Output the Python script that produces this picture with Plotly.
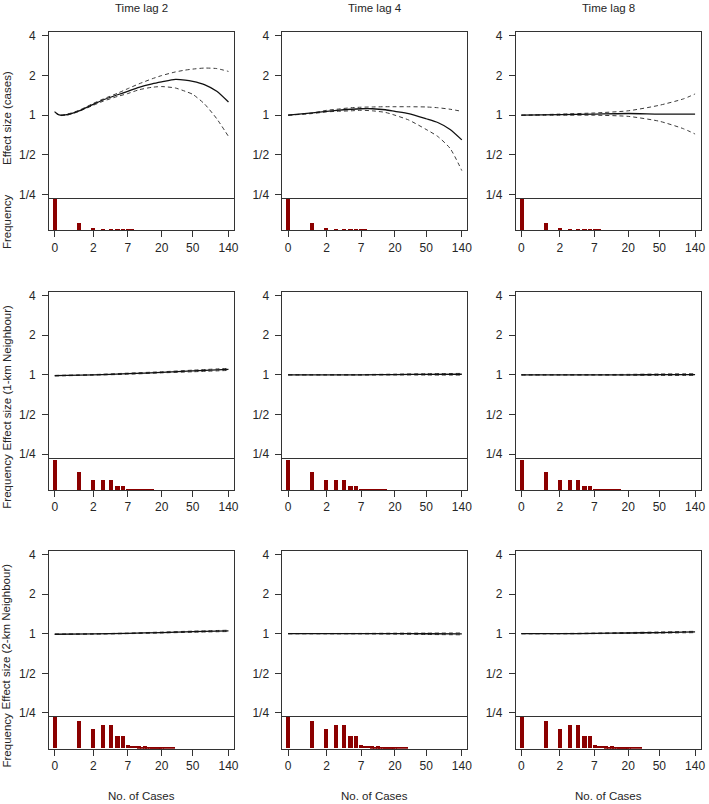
import numpy as np
import plotly.graph_objects as go

W, H = 709, 804

col_titles = ["Time lag 2", "Time lag 4", "Time lag 8"]
row_ylabels = ["Effect size (cases)", "Effect size (1-km Neighbour)", "Effect size (2-km Neighbour)"]
x_tick_vals = [0, 2, 7, 20, 50, 140]
x_tick_text = ["0", "2", "7", "20", "50", "140"]
y_tick_vals = [0.25, 0.5, 1, 2, 4]
y_tick_text = ["1/4", "1/2", "1", "2", "4"]

# ---- effect curves (x = no. of cases) ----
x_r1c1 = [0, 0.08, 0.18, 0.35, 0.6, 1, 2, 3, 5, 7, 10, 15, 20, 30, 40, 50, 70, 100, 140]
fit_r1c1 = [1.06, 1.02, 1.0, 1.005, 1.03, 1.08, 1.21, 1.31, 1.43, 1.52, 1.63, 1.73, 1.79, 1.87, 1.85, 1.81, 1.71, 1.52, 1.26]
hi_r1c1 = [1.06, 1.025, 1.005, 1.012, 1.04, 1.09, 1.23, 1.33, 1.47, 1.59, 1.73, 1.89, 2.00, 2.13, 2.20, 2.24, 2.28, 2.26, 2.15]
lo_r1c1 = [1.06, 1.015, 0.995, 0.998, 1.02, 1.07, 1.19, 1.28, 1.39, 1.46, 1.56, 1.63, 1.65, 1.61, 1.52, 1.44, 1.22, 0.94, 0.69]

x_r1c2 = [0, 1, 2, 3, 5, 7, 10, 15, 20, 30, 50, 70, 100, 140]
fit_r1c2 = [1.0, 1.04, 1.07, 1.09, 1.11, 1.12, 1.12, 1.10, 1.07, 1.03, 0.94, 0.88, 0.78, 0.65]
hi_r1c2 = [1.0, 1.04, 1.09, 1.11, 1.14, 1.15, 1.155, 1.16, 1.16, 1.16, 1.155, 1.14, 1.11, 1.07]
lo_r1c2 = [1.0, 1.03, 1.06, 1.07, 1.08, 1.09, 1.08, 1.05, 1.00, 0.92, 0.78, 0.69, 0.56, 0.38]

x_r1c3 = [0, 2, 7, 20, 50, 100, 140]
fit_r1c3 = [1.0, 1.01, 1.02, 1.03, 1.02, 1.02, 1.02]
hi_r1c3 = [1.0, 1.02, 1.04, 1.08, 1.19, 1.33, 1.45]
lo_r1c3 = [1.0, 1.0, 1.0, 0.98, 0.90, 0.79, 0.72]

x_flat = [0, 2, 7, 20, 50, 140]
fit_r2c1 = [0.985, 1.0, 1.02, 1.045, 1.07, 1.10]
hi_r2c1 = [0.99, 1.005, 1.03, 1.055, 1.085, 1.12]
lo_r2c1 = [0.98, 0.995, 1.01, 1.035, 1.055, 1.08]
fit_r2c2 = [1.0, 1.0, 1.0, 1.005, 1.008, 1.01]
hi_r2c2 = [1.0, 1.002, 1.005, 1.012, 1.02, 1.025]
lo_r2c2 = [1.0, 0.998, 0.996, 0.998, 0.996, 0.995]
fit_r2c3 = [1.0, 1.0, 1.0, 1.0, 1.003, 1.005]
hi_r2c3 = [1.005, 1.003, 1.004, 1.008, 1.015, 1.02]
lo_r2c3 = [0.995, 0.997, 0.996, 0.993, 0.99, 0.99]
fit_r3c1 = [0.99, 0.995, 1.005, 1.02, 1.035, 1.05]
hi_r3c1 = [0.992, 0.998, 1.01, 1.028, 1.045, 1.062]
lo_r3c1 = [0.988, 0.992, 1.0, 1.012, 1.025, 1.038]
fit_r3c2 = [1.0, 1.0, 1.0, 1.0, 0.998, 0.995]
hi_r3c2 = [1.003, 1.003, 1.004, 1.008, 1.01, 1.012]
lo_r3c2 = [0.997, 0.997, 0.996, 0.992, 0.986, 0.98]
fit_r3c3 = [1.0, 1.0, 1.005, 1.012, 1.02, 1.03]
hi_r3c3 = [1.002, 1.003, 1.01, 1.02, 1.03, 1.042]
lo_r3c3 = [0.998, 0.997, 1.0, 1.004, 1.01, 1.018]

curves = [
    [(x_r1c1, fit_r1c1, hi_r1c1, lo_r1c1), (x_r1c2, fit_r1c2, hi_r1c2, lo_r1c2), (x_r1c3, fit_r1c3, hi_r1c3, lo_r1c3)],
    [(x_flat, fit_r2c1, hi_r2c1, lo_r2c1), (x_flat, fit_r2c2, hi_r2c2, lo_r2c2), (x_flat, fit_r2c3, hi_r2c3, lo_r2c3)],
    [(x_flat, fit_r3c1, hi_r3c1, lo_r3c1), (x_flat, fit_r3c2, hi_r3c2, lo_r3c2), (x_flat, fit_r3c3, hi_r3c3, lo_r3c3)],
]

# ---- frequency histograms (relative frequency, % of panel height) ----
hist_x_r1 = [0, 1, 2, 3, 4, 5, 6, 7, 8]
hist_y_r1 = [96, 23, 7, 4, 4, 2, 2, 1, 1]
hist_x_r2 = [0, 1, 2, 3, 4, 5, 6, 7, 8, 9, 10, 11, 12, 13, 14, 15]
hist_y_r2 = [94, 57, 31, 31, 31, 14, 14, 5, 4, 3, 2, 2, 2, 2, 2, 1]
hist_x_r3 = [0, 1, 2, 3, 4, 5, 6, 7, 8, 9, 10, 11, 12, 13, 14, 15, 16, 17, 18, 19, 20, 22, 25, 28]
hist_y_r3 = [97, 86, 60, 71, 71, 37, 37, 11, 8, 7, 6, 5, 6, 5, 4, 4, 3, 3, 2, 2, 2, 1, 1, 1]
hists = [(hist_x_r1, hist_y_r1), (hist_x_r2, hist_y_r2), (hist_x_r3, hist_y_r3)]

# ---- layout geometry (pixels) ----
col_left = [49.5, 284.5, 519.4]
panel_w = 186.3
row_top = [29.4, 291.3, 552.4]
eff_h = 167.3
hist_h = 32.6
px_per_doubling = 40.0
top_gap = 3.8   # px above tick "4"
bot_gap = 3.5   # px below tick "1/4"
xr = [-0.16, 5.11]

FONT = "Liberation Sans, Arial, sans-serif"
TXT = "#262626"
LINE = "#333333"
LAB = 11.5

fig = go.Figure()
layout = dict(width=W, height=H, margin=dict(l=0, r=0, t=0, b=0),
              paper_bgcolor="white", plot_bgcolor="white", showlegend=False,
              font=dict(family=FONT, size=12, color=TXT))
annotations = []

ytop = 2 + top_gap / px_per_doubling
ybot = -2 - bot_gap / px_per_doubling
yrange = [ybot * np.log10(2), ytop * np.log10(2)]

for r in range(3):
    hx, hy = hists[r]
    for c in range(3):
        k = 2 * (3 * r + c) + 1
        ke, kh = k, k + 1
        sfx_e = "" if ke == 1 else str(ke)
        sfx_h = str(kh)
        x0 = col_left[c] / W
        x1 = (col_left[c] + panel_w) / W
        t = row_top[r]
        line_y = t + eff_h
        b = line_y + hist_h
        # effect axes
        layout["xaxis" + sfx_e] = dict(domain=[x0, x1], range=xr, anchor="y" + sfx_e,
                                       showticklabels=False, ticks="", showgrid=False, zeroline=False,
                                       showline=True, mirror=True, linecolor=LINE, linewidth=1)
        layout["yaxis" + sfx_e] = dict(domain=[1 - line_y / H, 1 - t / H], type="log", range=yrange,
                                       anchor="x" + sfx_e, tickvals=y_tick_vals, ticktext=y_tick_text,
                                       ticks="outside", ticklen=6, tickcolor=LINE, showgrid=False,
                                       zeroline=False, showline=True, mirror=True, linecolor=LINE,
                                       linewidth=1, ticklabelstandoff=4, tickfont=dict(size=12, color=TXT))
        # histogram axes
        layout["xaxis" + sfx_h] = dict(domain=[x0, x1], range=xr, anchor="y" + sfx_h,
                                       tickvals=list(np.log1p(x_tick_vals)), ticktext=x_tick_text,
                                       ticks="outside", ticklen=6, tickcolor=LINE, showgrid=False,
                                       zeroline=False, showline=True, mirror=False, linecolor=LINE,
                                       linewidth=1, tickfont=dict(size=12, color=TXT))
        layout["yaxis" + sfx_h] = dict(domain=[1 - b / H, 1 - line_y / H], range=[0, 100],
                                       anchor="x" + sfx_h, showticklabels=False, ticks="",
                                       showgrid=False, zeroline=False, showline=True, mirror=True,
                                       linecolor=LINE, linewidth=1)
        # traces
        cx, fit, hi, lo = curves[r][c]
        lx = np.log1p(cx)
        for yy, dash, wd, colr in [(hi, "4px,3px", 1, "#3a3a3a"), (lo, "4px,3px", 1, "#3a3a3a"),
                                   (fit, "solid", 1.3, "#111111")]:
            fig.add_trace(go.Scatter(x=lx, y=yy, mode="lines", xaxis="x" + sfx_e, yaxis="y" + sfx_e,
                                     line=dict(color=colr, width=wd, dash=dash, shape="spline", smoothing=0.6),
                                     hoverinfo="skip"))
        fig.add_trace(go.Bar(x=np.log1p(hx), y=hy, width=0.115, marker=dict(color="#8B0000", line=dict(width=0)),
                             xaxis="x" + sfx_h, yaxis="y" + sfx_h, hoverinfo="skip"))
        # column titles
        if r == 0:
            annotations.append(dict(text=col_titles[c], x=(col_left[c] + panel_w / 2) / W, y=1 - 5.5 / H,
                                    xref="paper", yref="paper", showarrow=False,
                                    xanchor="center", yanchor="middle", font=dict(size=LAB, color=TXT)))
        if r == 2:
            annotations.append(dict(text="No. of Cases", x=(col_left[c] + panel_w / 2) / W, y=1 - 799.5 / H,
                                    xref="paper", yref="paper", showarrow=False,
                                    xanchor="center", yanchor="middle", font=dict(size=LAB, color=TXT)))
    # row y labels
    t = row_top[r]
    line_y = t + eff_h
    annotations.append(dict(text=row_ylabels[r], x=7 / W, y=1 - (t + eff_h / 2 + 3) / H,
                            xref="paper", yref="paper", showarrow=False, textangle=-90,
                            xanchor="center", yanchor="middle", font=dict(size=LAB, color=TXT)))
    annotations.append(dict(text="Frequency", x=7 / W, y=1 - (line_y + hist_h / 2 + 7) / H,
                            xref="paper", yref="paper", showarrow=False, textangle=-90,
                            xanchor="center", yanchor="middle", font=dict(size=LAB, color=TXT)))

layout["annotations"] = annotations
layout["bargap"] = 0
fig.update_layout(**layout)
fig.write_html("out.html", config={"displayModeBar": False},
               post_script="document.body.style.margin='0px';")
